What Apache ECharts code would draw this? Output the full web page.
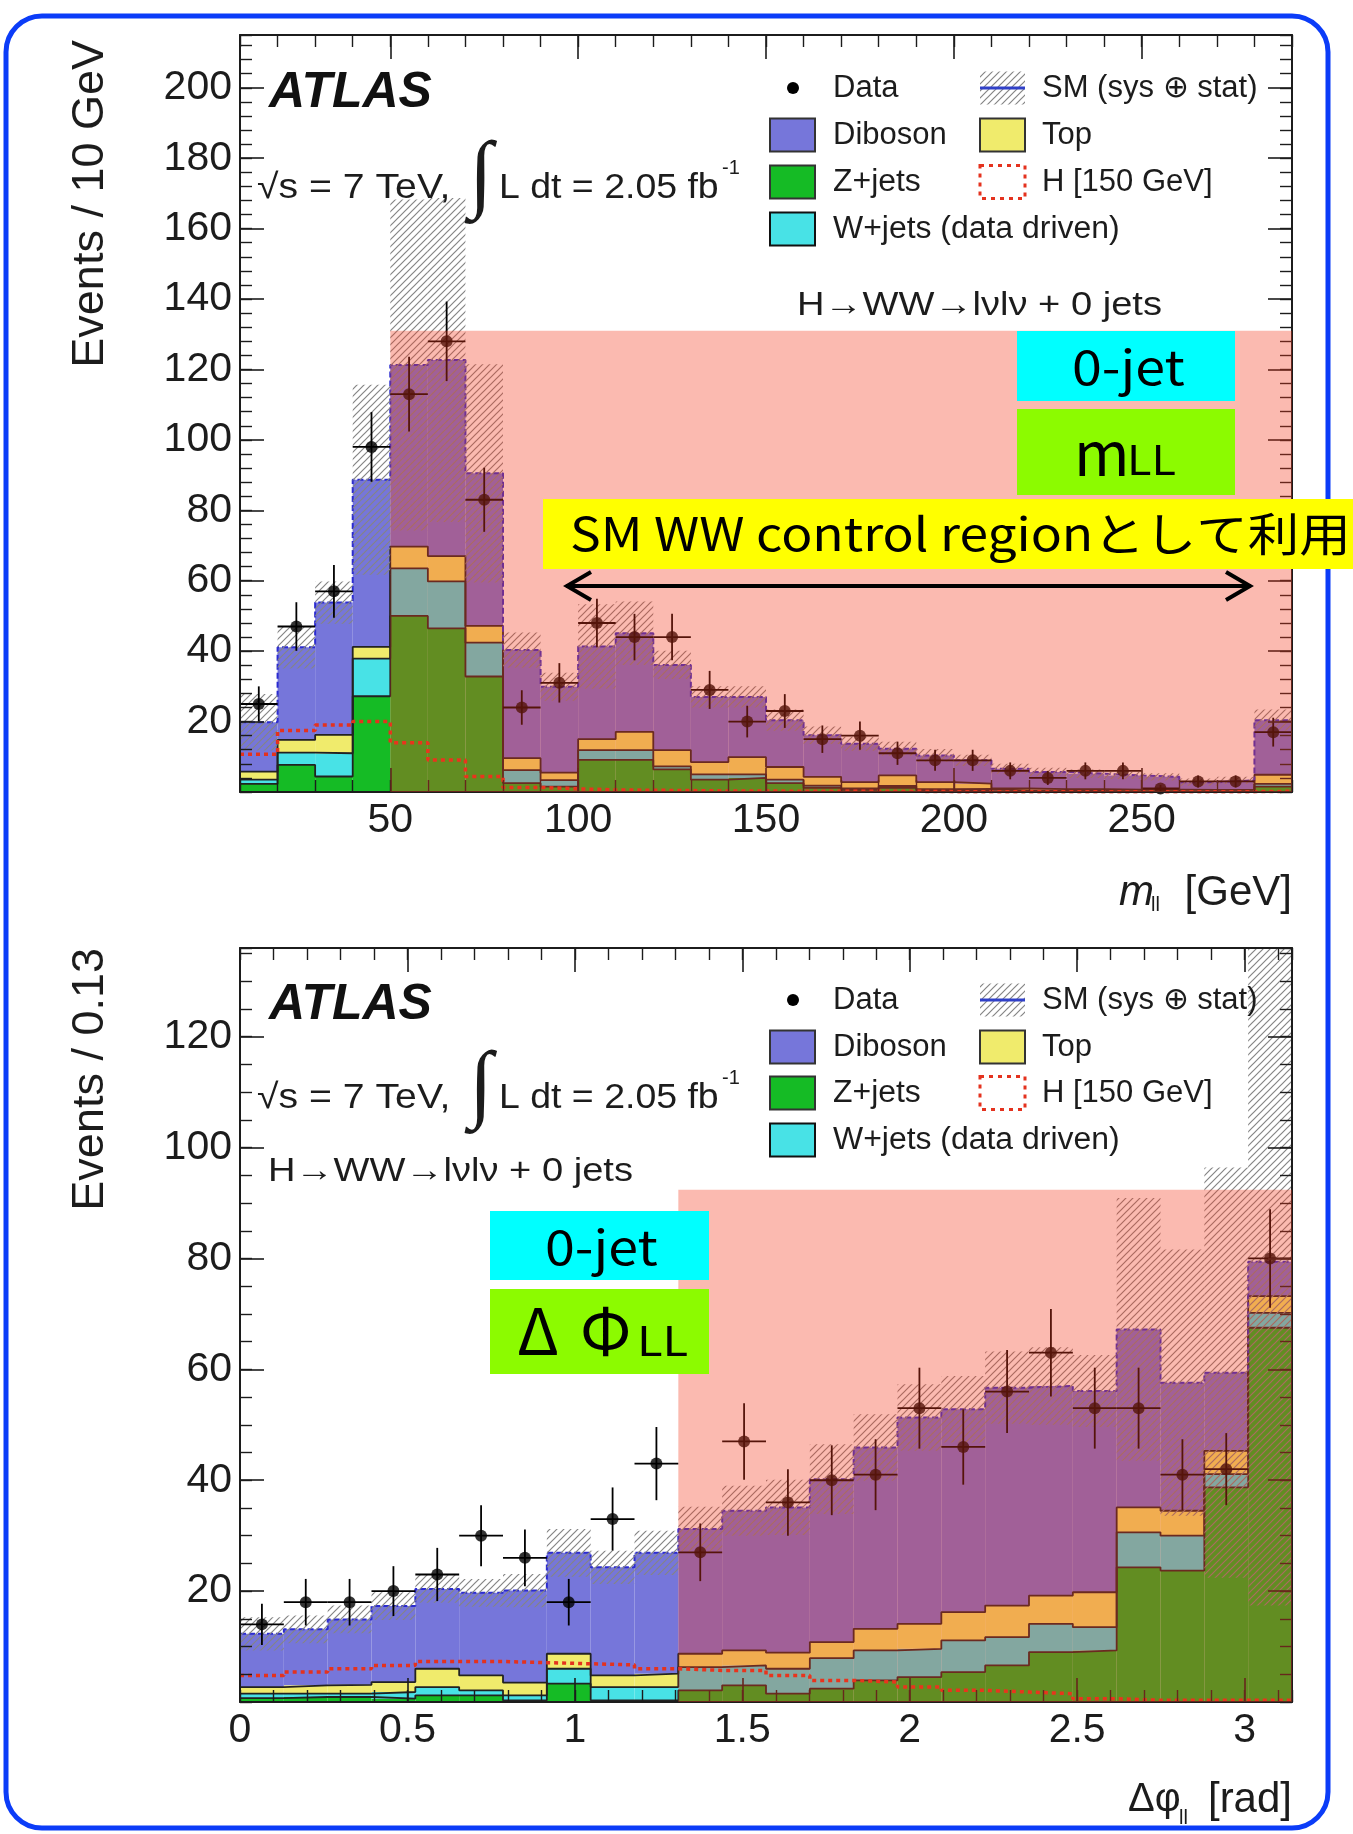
<!DOCTYPE html>
<html>
<head>
<meta charset="utf-8">
<title>H-WW 0-jet control region</title>
<script src="https://cdn.jsdelivr.net/npm/echarts@6.0.0/dist/echarts.min.js"></script>
<style>
  html, body { margin: 0; padding: 0; background: #fff; }
  #main { width: 1353px; height: 1834px; }
</style>
</head>
<body>
<div id="main"></div>
<script type="text/javascript">
// ---------- m_ll panel : 10 GeV bins, 10 - 290 GeV ----------
var mllEdges   = [10, 20, 30, 40, 50, 60, 70, 80, 90, 100, 110, 120, 130, 140, 150,
                  160, 170, 180, 190, 200, 210, 220, 230, 240, 250, 260, 270, 280, 290];
var mllZjets   = [2.3, 7.7, 4.4, 27.2, 50.0, 46.5, 32.8, 2.5, 1.5, 9.1, 9.1, 6.4, 3.5, 4.0,
                  2.5, 1.2, 0.6, 1.2, 0.5, 0.3, 0.2, 0.2, 0.1, 0.1, 0.1, 0.1, 0.1, 1.5];
var mllWjets   = [1.2, 3.5, 6.6, 10.7, 13.5, 13.3, 9.6, 3.7, 1.9, 2.8, 2.8, 0.9, 1.5, 1.0,
                  1.0, 0.6, 0.4, 0.5, 0.3, 0.6, 0.2, 0.1, 0.2, 0.1, 0.1, 0.1, 0.1, 0.8];
var mllTop     = [2.3, 3.6, 5.2, 3.3, 6.2, 7.2, 4.8, 3.4, 2.1, 3.1, 5.2, 4.6, 3.5, 4.9,
                  3.6, 2.5, 1.8, 3.0, 2.0, 1.5, 0.6, 0.5, 0.5, 0.5, 0.5, 0.4, 0.4, 2.6];
var mllDiboson = [14.0, 26.3, 37.6, 47.5, 51.6, 55.7, 43.3, 30.7, 24.4, 26.3, 28.0, 24.2, 18.5, 17.1,
                  13.3, 11.8, 10.9, 7.6, 7.6, 6.6, 5.6, 4.9, 4.4, 4.0, 3.6, 2.2, 2.7, 15.5];
var mllSysErr  = [8, 6, 6, 27, 47, 46, 31, 5, 4, 12, 9, 4, 3, 3,
                  3, 2.5, 2, 2, 1.8, 1.6, 1.4, 1.2, 1.2, 1.0, 1.0, 1.0, 1.0, 3];
var mllHiggs   = [10.7, 17.5, 19.0, 20.0, 14.0, 9.1, 4.4, 1.3, 0.9, 0.6, 0.5, 0.4, 0.3, 0.3,
                  0.2, 0.2, 0.2, 0.2, 0.1, 0.1, 0.1, 0.1, 0.1, 0.1, 0.1, 0.1, 0.1, 0.2];
var mllData    = [25, 47, 57, 98, 113, 128, 83, 24, 31, 48, 44, 44, 29, 20,
                  23, 15, 16, 11, 9, 9, 6, 4, 6, 6, 1, 3, 3, 17];
var mllDataErr = [5.0, 6.9, 7.5, 9.9, 10.6, 11.3, 9.1, 4.9, 5.6, 6.9, 6.6, 6.6, 5.4, 4.5,
                  4.8, 3.9, 4.0, 3.3, 3.0, 3.0, 2.4, 2.0, 2.4, 2.4, 1.0, 1.7, 1.7, 4.1];
var mllXTicks  = [50, 100, 150, 200, 250];
var mllYTicks  = [20, 40, 60, 80, 100, 120, 140, 160, 180, 200];
var mllControl = [50, 290, 0, 131];          // SM WW control region box [x0, x1, y0, y1]

// ---------- delta-phi panel : pi/24 bins ----------
var dphiEdges   = [0, 0.1309, 0.2618, 0.3927, 0.5236, 0.6545, 0.7854, 0.9163, 1.0472, 1.1781,
                   1.3090, 1.4399, 1.5708, 1.7017, 1.8326, 1.9635, 2.0944, 2.2253, 2.3562,
                   2.4871, 2.6180, 2.7489, 2.8798, 3.0107, 3.1416];
var dphiZjets   = [0.7, 0.9, 0.9, 0.6, 1.2, 1.2, 0.3, 3.3, 0.3, 0.3, 2.1, 3.0, 1.5, 2.4,
                   3.9, 4.5, 5.4, 6.6, 9.0, 9.3, 24.3, 23.7, 38.7, 67.5];
var dphiWjets   = [0.8, 0.6, 0.6, 1.2, 1.5, 0.9, 0.9, 2.7, 2.4, 2.4, 4.2, 3.6, 4.5, 5.5,
                   5.4, 5.1, 5.7, 5.1, 5.1, 4.2, 6.3, 6.3, 2.4, 2.7];
var dphiTop     = [1.2, 1.5, 1.6, 1.8, 3.3, 2.7, 2.3, 2.7, 2.1, 2.4, 2.4, 2.7, 2.9, 2.9,
                   3.9, 4.5, 5.1, 5.7, 5.1, 6.3, 4.5, 4.5, 4.2, 3.0];
var dphiDiboson = [9.6, 10.1, 11.8, 13.7, 14.4, 14.9, 16.6, 18.2, 19.5, 21.8, 22.5, 25.2, 26.2, 29.4,
                   32.7, 37.2, 36.6, 39.3, 37.8, 36.3, 32.1, 23.1, 14.1, 6.2];
var dphiSysErr  = [3.0, 2.5, 2.5, 2.5, 2.5, 2.5, 3.0, 4.3, 3.0, 4.0, 4.0, 4.5, 5.0, 6.3,
                   6.0, 6.0, 6.0, 6.5, 7.0, 6.5, 23.7, 24.0, 37.0, 62.0];
var dphiHiggs   = [4.8, 5.4, 6.0, 6.6, 7.3, 7.3, 7.1, 6.9, 6.7, 6.0, 5.7, 5.7, 4.8, 3.9,
                   3.6, 2.7, 2.1, 1.8, 1.5, 0.6, 0.3, 0.3, 0.3, 0.3];
var dphiData    = [14, 18, 18, 20, 23, 30, 26, 18, 33, 43, 27, 47, 36, 40,
                   41, 53, 46, 56, 63, 53, 53, 41, 42, 80];
var dphiDataErr = [3.7, 4.2, 4.2, 4.5, 4.8, 5.5, 5.1, 4.2, 5.7, 6.6, 5.2, 6.9, 6.0, 6.3,
                   6.4, 7.3, 6.8, 7.5, 7.9, 7.3, 7.3, 6.4, 6.5, 8.9];
var dphiXTicks  = [0, 0.5, 1, 1.5, 2, 2.5, 3];
var dphiYTicks  = [20, 40, 60, 80, 100, 120];
var dphiControl = [1.309, 3.1416, 0, 92.4];

var FONT = '"Liberation Sans", Arial, Helvetica, sans-serif';
var JFONT = '"Noto Sans CJK JP", "Noto Sans", sans-serif';
var INK = '#1c1c1c';
var COL = { dib: '#7676da', top: '#f0eb6c', z: '#15bb25', w: '#48e2e6' };

// diagonal hatch used for the SM uncertainty band
function makeHatch() {
  var c = document.createElement('canvas');
  c.width = 7; c.height = 7;
  var g = c.getContext('2d');
  g.strokeStyle = '#858585';
  g.lineWidth = 1.2;
  g.beginPath();
  g.moveTo(0, 7); g.lineTo(7, 0);
  g.moveTo(-3.5, 3.5); g.lineTo(3.5, -3.5);
  g.moveTo(3.5, 10.5); g.lineTo(10.5, 3.5);
  g.stroke();
  return c;
}
var hatchFill = { image: makeHatch(), repeat: 'repeat' };

function boxItem(fill) {
  return function (params, api) {
    var a = api.coord([api.value(0), api.value(3)]);
    var b = api.coord([api.value(1), api.value(2)]);
    return { type: 'rect', shape: { x: a[0], y: a[1], width: b[0] - a[0], height: b[1] - a[1] },
             style: { fill: fill } };
  };
}

function errItem(params, api) {
  var x0 = api.value(0), x1 = api.value(1), y = api.value(2), e = api.value(3);
  var xm = (x0 + x1) / 2;
  var l = api.coord([x0, y]), r = api.coord([x1, y]);
  var t = api.coord([xm, y + e]), b = api.coord([xm, y - e]);
  var st = { stroke: '#000', lineWidth: 1.8 };
  return { type: 'group', children: [
    { type: 'line', shape: { x1: l[0], y1: l[1], x2: r[0], y2: r[1] }, style: st },
    { type: 'line', shape: { x1: t[0], y1: t[1], x2: b[0], y2: b[1] }, style: st }
  ] };
}

function stepData(edges, vals) {
  var out = [];
  for (var i = 0; i < vals.length; i++) out.push([edges[i], vals[i]]);
  out.push([edges[vals.length], vals[vals.length - 1]]);
  return out;
}

function panelSeries(p, edges, comps, sys, higgs, data, err, cr, yMax) {
  var xi = 4 * p, yi = 4 * p, out = [];
  var levels = [], run = comps[0].vals.map(function () { return 0; });
  comps.forEach(function (c) {
    run = run.map(function (v, i) { return v + c.vals[i]; });
    levels.push(run);
  });
  var total = levels[levels.length - 1];

  comps.forEach(function (c, k) {
    out.push({
      type: 'custom', name: c.name, xAxisIndex: xi, yAxisIndex: yi, z: 2,
      renderItem: boxItem(c.color), encode: { x: [0, 1], y: [2, 3] },
      data: c.vals.map(function (v, i) {
        return [edges[i], edges[i + 1], k ? levels[k - 1][i] : 0, levels[k][i]];
      })
    });
  });
  levels.forEach(function (lv, k) {
    var last = k === levels.length - 1;
    out.push({
      type: 'line', step: 'end', xAxisIndex: xi, yAxisIndex: yi, z: 3,
      symbol: 'none', data: stepData(edges, lv),
      lineStyle: last ? { color: '#2b2bd0', width: 2, type: [6, 3] } : { color: '#222', width: 1.8 }
    });
  });
  out.push({
    type: 'custom', xAxisIndex: xi, yAxisIndex: yi, z: 4,
    renderItem: boxItem(hatchFill), encode: { x: [0, 1], y: [2, 3] },
    data: total.map(function (t, i) {
      return [edges[i], edges[i + 1], Math.max(0, t - sys[i]), Math.min(yMax, t + sys[i])];
    })
  });
  out.push({
    type: 'line', step: 'end', xAxisIndex: xi, yAxisIndex: yi, z: 5,
    symbol: 'none', data: stepData(edges, higgs),
    lineStyle: { color: '#e4321e', width: 3.5, type: [4, 4] }
  });
  out.push({
    type: 'custom', xAxisIndex: xi, yAxisIndex: yi, z: 6,
    renderItem: errItem, encode: { x: [0, 1], y: 2 },
    data: data.map(function (d, i) { return [edges[i], edges[i + 1], d, err[i]]; })
  });
  out.push({
    type: 'scatter', xAxisIndex: xi, yAxisIndex: yi, z: 6,
    symbol: 'circle', symbolSize: 12, itemStyle: { color: '#000' },
    data: data.map(function (d, i) { return [(edges[i] + edges[i + 1]) / 2, d]; })
  });
  out.push({
    type: 'custom', xAxisIndex: xi, yAxisIndex: yi, z: 8,
    renderItem: boxItem('rgba(243,58,29,0.35)'), encode: { x: [0, 1], y: [2, 3] },
    data: [cr]
  });
  return out;
}

function majorAxis(grid, pos, min, max, ticks, labels) {
  return {
    type: 'value', gridIndex: grid, position: pos, min: min, max: max, z: 7,
    axisLine: { show: true, onZero: false, lineStyle: { color: INK, width: 2 } },
    axisTick: { show: true, inside: true, length: 24, customValues: ticks, lineStyle: { color: INK, width: 1.6 } },
    axisLabel: { show: labels, customValues: ticks, fontSize: 41, fontFamily: FONT, color: INK, margin: 8 },
    splitLine: { show: false }
  };
}
function minorAxis(grid, pos, min, max, step) {
  return {
    type: 'value', gridIndex: grid, position: pos, min: min, max: max, interval: step, z: 7,
    axisLine: { show: false, onZero: false },
    axisTick: { show: true, inside: true, length: 12, lineStyle: { color: INK, width: 1.4 } },
    axisLabel: { show: false },
    splitLine: { show: false }
  };
}

// text element; more.z / more.sx are element props, the rest go to style
function t(x, y, s, size, more) {
  var st = { text: s, fontSize: size, fontFamily: FONT, fill: INK, align: 'left', verticalAlign: 'middle' };
  var el = { type: 'text', x: x, y: y, z: 50, style: st };
  for (var k in more) {
    if (k === 'z') el.z = more.z;
    else if (k === 'sx') el.scaleX = more.sx;
    else st[k] = more[k];
  }
  return el;
}
function note(x, y, s, size, more) {
  var m = { fontFamily: JFONT, fill: '#000', z: 101 };
  for (var k in more) m[k] = more[k];
  return t(x, y, s, size, m);
}

function legend(rows) {
  var g = [];
  function box(x, y, fill, stroke, dash) {
    g.push({ type: 'rect', z: 50, shape: { x: x, y: y - 16.5, width: 45, height: 33 },
             style: { fill: fill, stroke: stroke, lineWidth: dash ? 3 : 2, lineDash: dash || null } });
  }
  g.push({ type: 'circle', z: 50, shape: { cx: 793, cy: rows[0], r: 6 }, style: { fill: '#000' } });
  g.push(t(833, rows[0], 'Data', 31));
  box(980, rows[0], hatchFill, null);
  g.push({ type: 'line', z: 51, shape: { x1: 980, y1: rows[0], x2: 1025, y2: rows[0] },
           style: { stroke: '#3040c8', lineWidth: 3 } });
  g.push(t(1042, rows[0], 'SM (sys \u2295 stat)', 31));
  box(770, rows[1], COL.dib, '#333');
  g.push(t(833, rows[1], 'Diboson', 31));
  box(980, rows[1], COL.top, '#333');
  g.push(t(1042, rows[1], 'Top', 31));
  box(770, rows[2], COL.z, '#333');
  g.push(t(833, rows[2], 'Z+jets', 31, { sx: 1.03 }));
  box(980, rows[2], 'none', '#e4321e', [4, 5]);
  g.push(t(1042, rows[2], 'H [150 GeV]', 31));
  box(770, rows[3], COL.w, '#111');
  g.push(t(833, rows[3], 'W+jets (data driven)', 31, { sx: 1.03 }));
  return g;
}

function atlasLabel(y0, yInt) {
  return [
    t(269, y0, 'ATLAS', 50, { fontWeight: 'bold', fontStyle: 'italic', fill: '#111' }),
    t(257, yInt + 10, '\u221As = 7 TeV,', 35, { sx: 1.12 }),
    t(469, yInt, '\u222B', 86, { fontFamily: '"Liberation Serif", serif' }),
    t(499, yInt + 10, 'L dt = 2.05 fb', 35, { sx: 1.07 }),
    t(722, yInt - 10, '-1', 20)
  ];
}

var graphics = [
  { type: 'rect', z: 1, shape: { x: 6, y: 16, width: 1322, height: 1812, r: 36 },
    style: { fill: 'none', stroke: '#0b3cf8', lineWidth: 5 } }
];
graphics = graphics.concat(legend([88, 135, 182, 229]), legend([1000, 1047, 1093, 1140]));
graphics = graphics.concat(atlasLabel(93, 178), atlasLabel(1005, 1088));
graphics.push(
  t(797, 306, 'H\u2192WW\u2192l\u03BDl\u03BD + 0 jets', 34, { sx: 1.12 }),
  t(268, 1172, 'H\u2192WW\u2192l\u03BDl\u03BD + 0 jets', 34, { sx: 1.12 }),
  { type: 'text', x: 91, y: 40, rotation: Math.PI / 2, z: 50,
    style: { text: 'Events / 10 GeV', fontSize: 45, fontFamily: FONT, fill: INK, align: 'right', verticalAlign: 'middle' } },
  { type: 'text', x: 91, y: 948, rotation: Math.PI / 2, z: 50,
    style: { text: 'Events / 0.13', fontSize: 45, fontFamily: FONT, fill: INK, align: 'right', verticalAlign: 'middle' } },
  t(1119, 893, 'm', 42, { fontStyle: 'italic' }),
  t(1151, 905, 'll', 20),
  t(1292, 893, '[GeV]', 42, { align: 'right' }),
  t(1128, 1800, '\u0394\u03C6', 40),
  t(1179, 1818, 'll', 20),
  t(1292, 1800, '[rad]', 42, { align: 'right' }),

  // annotation boxes
  { type: 'rect', z: 100, shape: { x: 1017, y: 331, width: 218, height: 70 }, style: { fill: '#00ffff' } },
  note(1072, 367, '0-jet', 48, { sx: 1.12 }),
  { type: 'rect', z: 100, shape: { x: 1017, y: 409, width: 218, height: 86 }, style: { fill: '#8cfb00' } },
  note(1074, 453, 'm', 60),
  note(1127, 459, 'LL', 41, { sx: 1.1 }),
  { type: 'rect', z: 100, shape: { x: 543, y: 499, width: 810, height: 70 }, style: { fill: '#ffff00' } },
  note(570, 534, 'SM WW control region\u3068\u3057\u3066\u5229\u7528', 46, { sx: 1.12 }),
  { type: 'polyline', z: 100, shape: { points: [[566, 586], [1251, 586]] }, style: { stroke: '#000', lineWidth: 4 } },
  { type: 'polyline', z: 100, shape: { points: [[591, 572], [567, 586], [591, 600]] }, style: { stroke: '#000', lineWidth: 4, fill: 'none' } },
  { type: 'polyline', z: 100, shape: { points: [[1226, 572], [1250, 586], [1226, 600]] }, style: { stroke: '#000', lineWidth: 4, fill: 'none' } },
  { type: 'rect', z: 100, shape: { x: 490, y: 1211, width: 219, height: 69 }, style: { fill: '#00ffff' } },
  note(545, 1247, '0-jet', 48, { sx: 1.12 }),
  { type: 'rect', z: 100, shape: { x: 490, y: 1289, width: 219, height: 85 }, style: { fill: '#8cfb00' } },
  note(517, 1331, '\u0394', 64),
  note(580, 1331, '\u03A6', 64),
  note(637, 1340, 'LL', 41, { sx: 1.15 })
);

var mllComps = [
  { name: 'Z+jets', vals: mllZjets, color: COL.z },
  { name: 'W+jets (data driven)', vals: mllWjets, color: COL.w },
  { name: 'Top', vals: mllTop, color: COL.top },
  { name: 'Diboson', vals: mllDiboson, color: COL.dib }
];
var dphiComps = [
  { name: 'Z+jets', vals: dphiZjets, color: COL.z },
  { name: 'W+jets (data driven)', vals: dphiWjets, color: COL.w },
  { name: 'Top', vals: dphiTop, color: COL.top },
  { name: 'Diboson', vals: dphiDiboson, color: COL.dib }
];

var myChart = echarts.init(document.getElementById('main'), null, { renderer: 'canvas' });
var option = {
  animation: false,
  backgroundColor: '#fff',
  grid: [
    { left: 240, top: 35, width: 1052, height: 757, containLabel: false, outerBoundsMode: 'none' },
    { left: 240, top: 948, width: 1052, height: 754, containLabel: false, outerBoundsMode: 'none' }
  ],
  xAxis: [
    majorAxis(0, 'bottom', 10, 290, mllXTicks, true),
    minorAxis(0, 'bottom', 10, 290, 10),
    majorAxis(0, 'top', 10, 290, mllXTicks, false),
    minorAxis(0, 'top', 10, 290, 10),
    majorAxis(1, 'bottom', 0, Math.PI, dphiXTicks, true),
    minorAxis(1, 'bottom', 0, Math.PI, 0.1),
    majorAxis(1, 'top', 0, Math.PI, dphiXTicks, false),
    minorAxis(1, 'top', 0, Math.PI, 0.1)
  ],
  yAxis: [
    majorAxis(0, 'left', 0, 215, mllYTicks, true),
    minorAxis(0, 'left', 0, 215, 4),
    majorAxis(0, 'right', 0, 215, mllYTicks, false),
    minorAxis(0, 'right', 0, 215, 4),
    majorAxis(1, 'left', 0, 136, dphiYTicks, true),
    minorAxis(1, 'left', 0, 136, 5),
    majorAxis(1, 'right', 0, 136, dphiYTicks, false),
    minorAxis(1, 'right', 0, 136, 5)
  ],
  series: panelSeries(0, mllEdges, mllComps, mllSysErr, mllHiggs, mllData, mllDataErr, mllControl, 215)
    .concat(panelSeries(1, dphiEdges, dphiComps, dphiSysErr, dphiHiggs, dphiData, dphiDataErr, dphiControl, 136)),
  graphic: { elements: graphics }
};
myChart.setOption(option);
</script>
</body>
</html>
